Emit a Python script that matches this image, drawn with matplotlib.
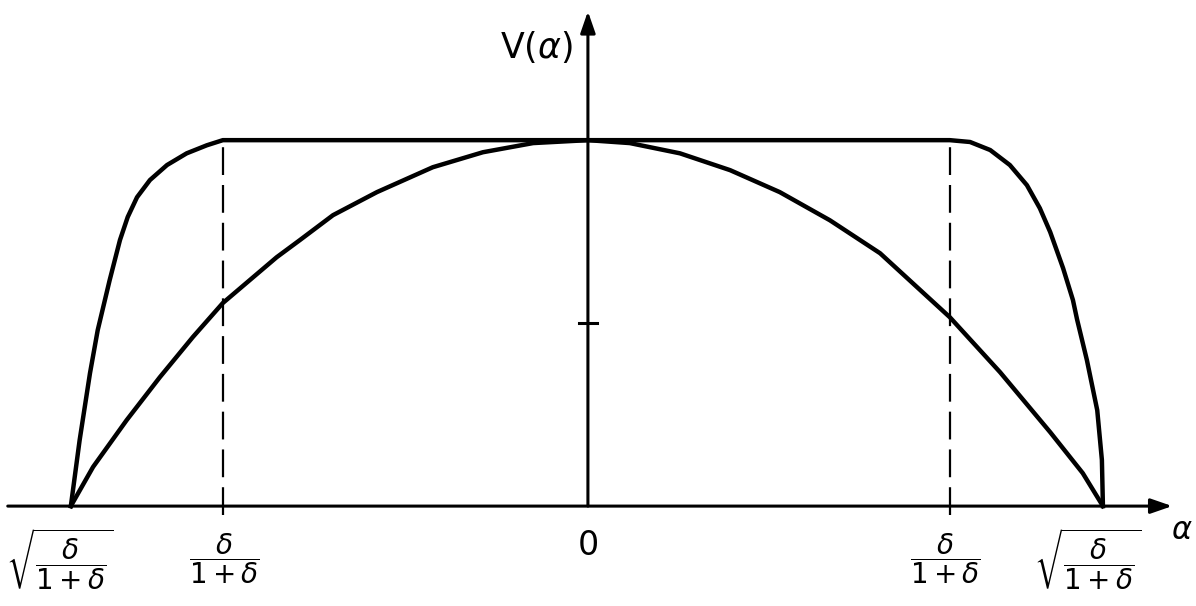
import matplotlib
matplotlib.use('Agg')
import matplotlib.pyplot as plt
import numpy as np

plt.rcParams['mathtext.fontset'] = 'dejavusans'

# x in units of sqrt(delta/(1+delta)), y in units of V(0)
# outer curve (flat top between the dashed lines)
flat_x = [-1.0, -0.983, -0.963, -0.948, -0.925, -0.905, -0.890, -0.872, -0.847, -0.814, -0.776, -0.737, -0.706,
          0.700, 0.739, 0.778, 0.816, 0.849, 0.874, 0.894, 0.919, 0.938, 0.946, 0.965, 0.985, 0.994, 0.996]
flat_y = [0.0, 0.180, 0.363, 0.481, 0.617, 0.727, 0.790, 0.844, 0.891, 0.932, 0.964, 0.986, 1.0,
          1.0, 0.995, 0.973, 0.932, 0.877, 0.814, 0.749, 0.650, 0.563, 0.510, 0.399, 0.262, 0.126, 0.0]

# inner curve (arch)
arc_x = [-1.0, -0.957, -0.892, -0.828, -0.764, -0.706, -0.602, -0.557, -0.493, -0.408, -0.300, -0.203, -0.106, 0.0,
         0.081, 0.178, 0.275, 0.371, 0.468, 0.565, 0.700, 0.797, 0.894, 0.957, 0.996]
arc_y = [0.0, 0.107, 0.235, 0.352, 0.462, 0.555, 0.680, 0.727, 0.795, 0.858, 0.926, 0.967, 0.992, 1.0,
         0.992, 0.964, 0.918, 0.858, 0.781, 0.691, 0.516, 0.366, 0.202, 0.090, 0.0]

dash_x = [-0.706, 0.700]
x_ticks = [-1.0, -0.706, 0.0, 0.700, 0.996]
x_labels = [r'$\sqrt{\dfrac{\delta}{1+\delta}}$', r'$\dfrac{\delta}{1+\delta}$', '0',
            r'$\dfrac{\delta}{1+\delta}$', r'$\sqrt{\dfrac{\delta}{1+\delta}}$']
y_mid = 0.5

fig = plt.figure(figsize=(11.96, 6.06), dpi=100)
ax = fig.add_axes([0, 0, 1, 1])
ax.set_xlim(-1.137, 1.176)
ax.set_ylim(-0.273, 1.383)
ax.axis('off')

# axes with arrows
arr = dict(arrowstyle='-|>,head_length=1.3,head_width=0.45', lw=2.2, color='black',
           shrinkA=0, shrinkB=0)
ax.annotate('', xy=(1.130, 0), xytext=(-1.122, 0), arrowprops=arr)
ax.annotate('', xy=(0, 1.352), xytext=(0, 0), arrowprops=arr)

ax.plot(flat_x, flat_y, color='black', lw=3.2, solid_joinstyle='round')
ax.plot(arc_x, arc_y, color='black', lw=3.2, solid_joinstyle='round')

for xd in dash_x:
    ax.plot([xd, xd], [-0.025, 1.0], color='black', lw=1.6, dashes=(12.5, 4.5))

# tick at half height
ax.plot([-0.017, 0.017], [y_mid, y_mid], color='black', lw=2.2)

offsets = [-0.022, 0.002, 0.0, -0.008, -0.029]
for xt, lab, dx in zip(x_ticks, x_labels, offsets):
    if lab == '0':
        ax.text(xt + dx, -0.107, lab, ha='center', va='center', fontsize=24)
    else:
        ax.text(xt + dx, -0.145, lab, ha='center', va='center', fontsize=20)

ax.text(-0.099, 1.254, r'V($\alpha$)', ha='center', va='center', fontsize=25)
ax.text(1.148, -0.066, r'$\alpha$', ha='center', va='center', fontsize=22,
        family='DejaVu Serif', style='italic')

fig.savefig('out.png', dpi=100)
